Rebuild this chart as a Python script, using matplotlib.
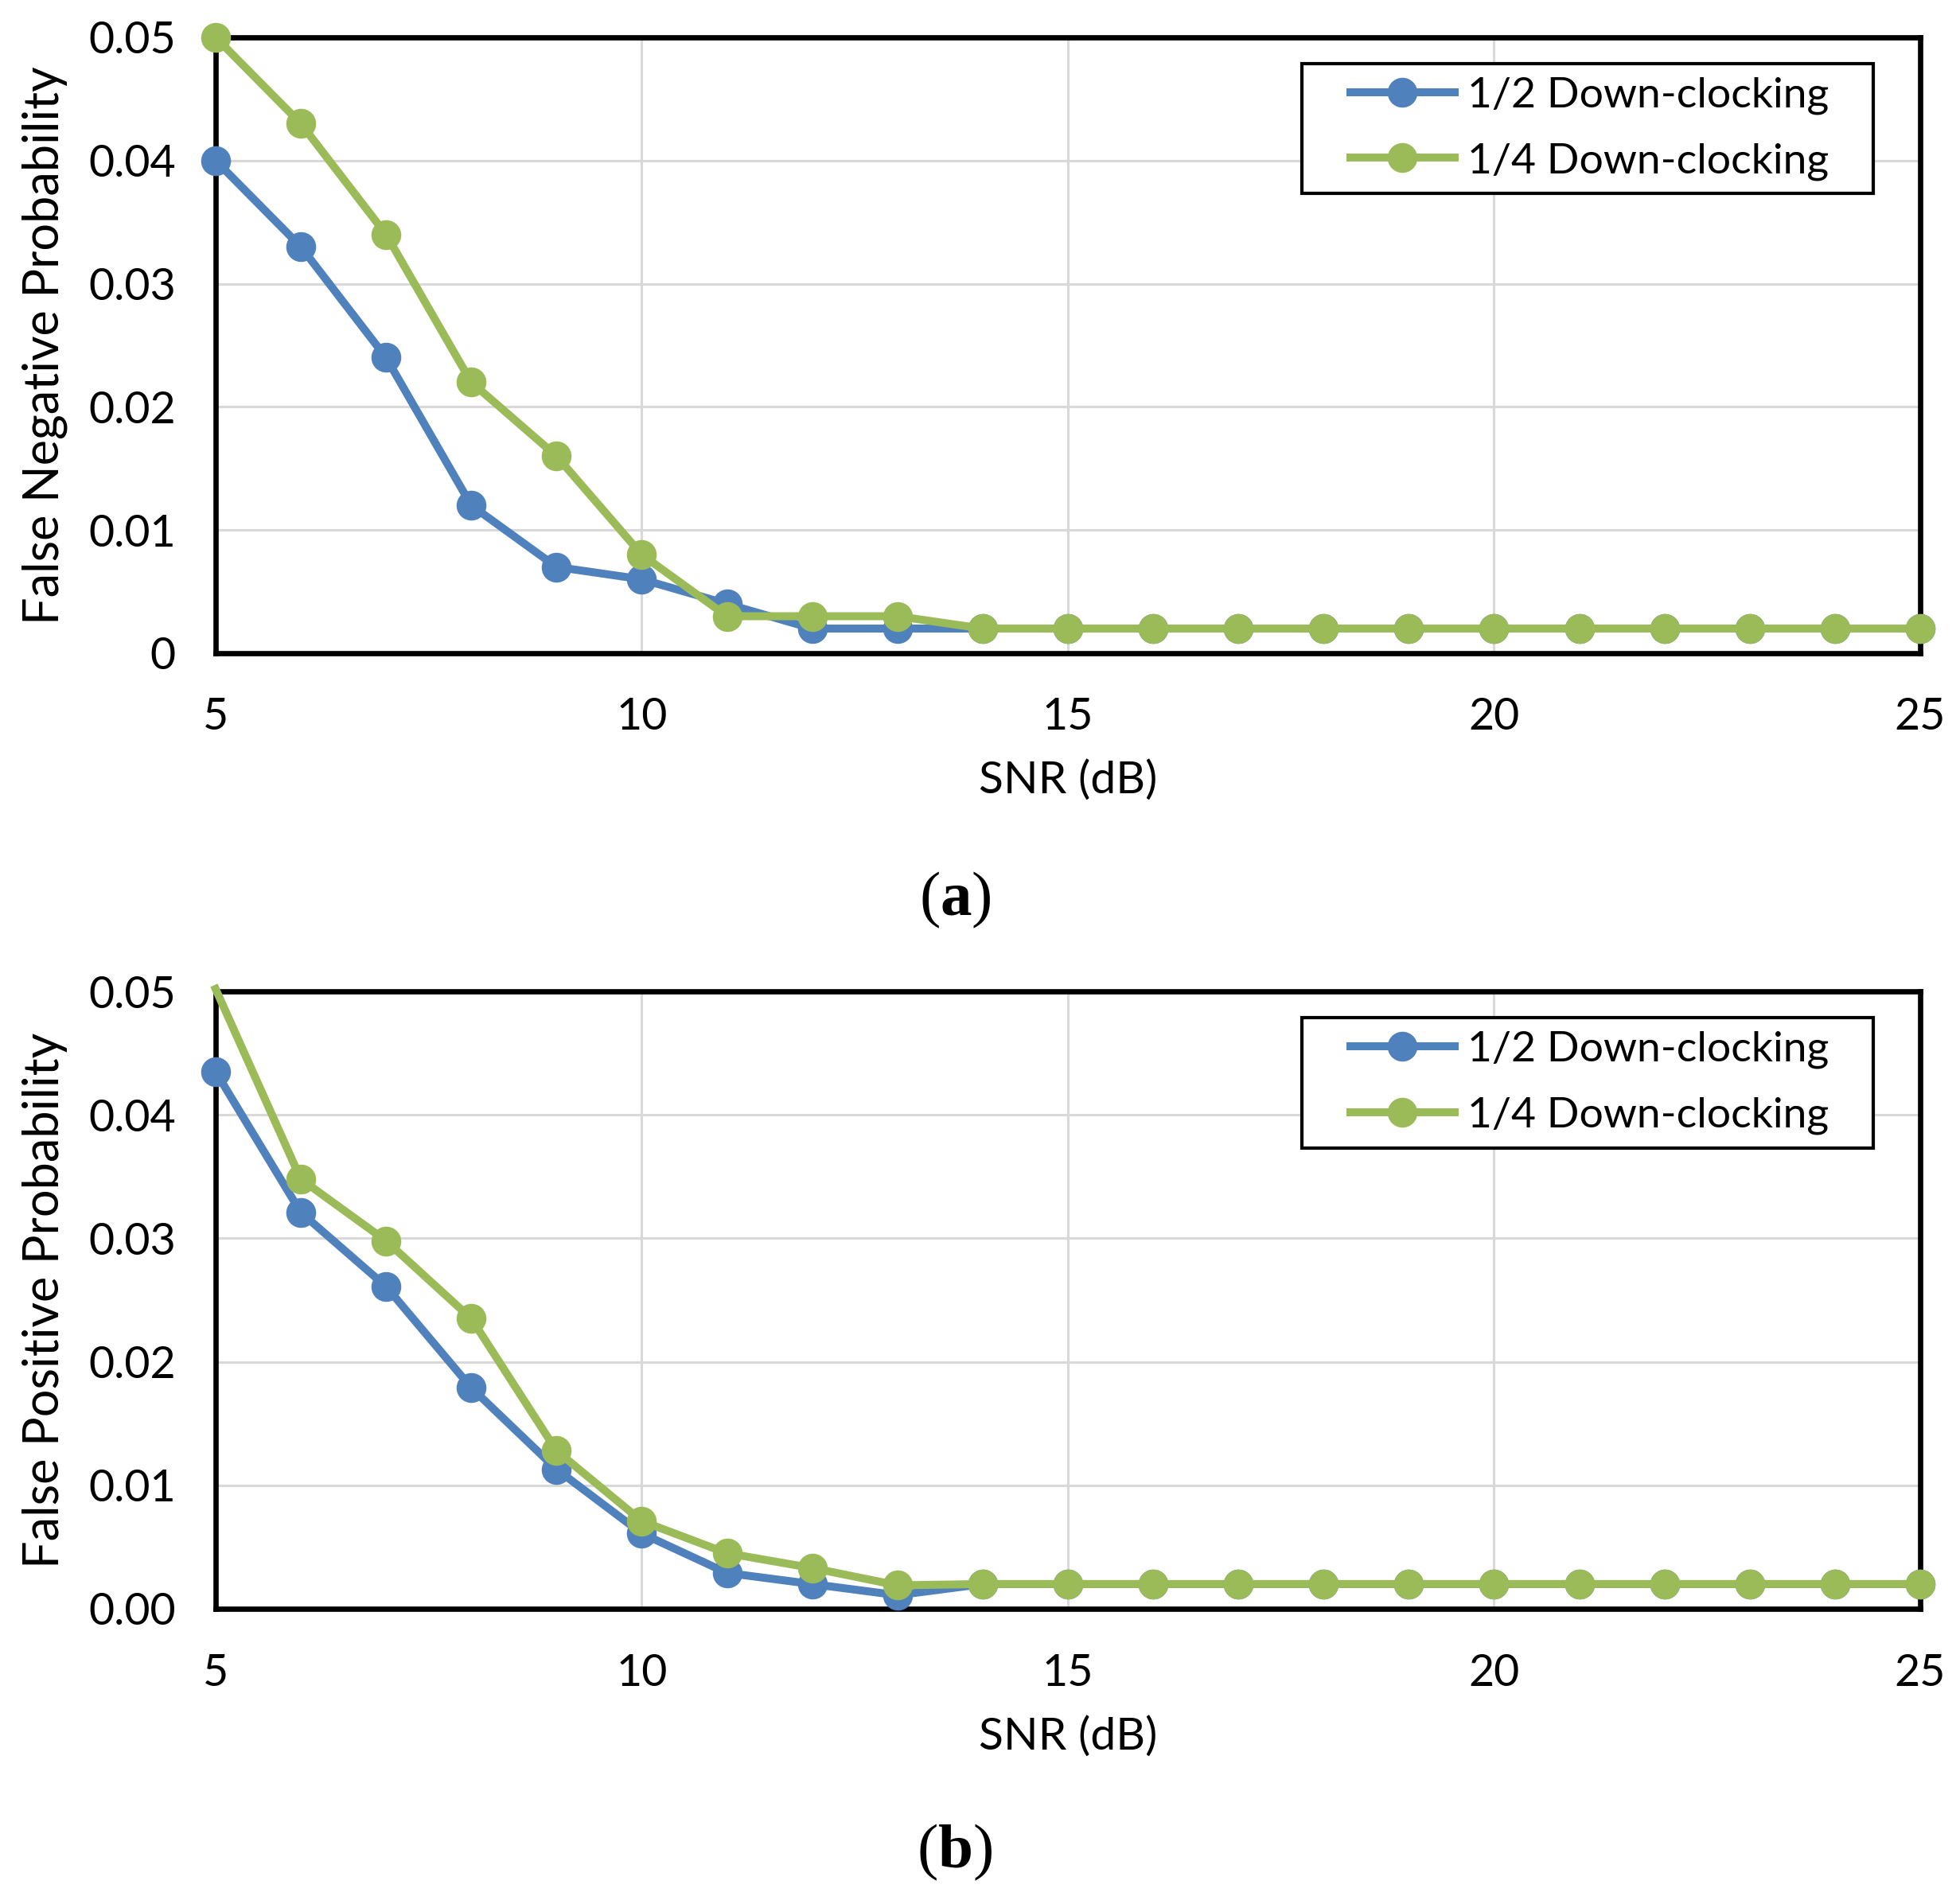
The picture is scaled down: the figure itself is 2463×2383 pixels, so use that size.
import numpy as np
import matplotlib
matplotlib.use('Agg')
import matplotlib.pyplot as plt
from matplotlib.patches import Rectangle

plt.rcParams['font.family'] = ['Lato', 'DejaVu Sans']
plt.rcParams['mathtext.fontset'] = 'custom'
plt.rcParams['mathtext.rm'] = 'Liberation Serif'
plt.rcParams['mathtext.bf'] = 'Liberation Serif:bold'

# SNR values (dB)
snr = np.arange(5, 26)

# (a) false negative probability
fn_half = [0.040, 0.033, 0.024, 0.012, 0.007, 0.006, 0.004, 0.002, 0.002,
           0.002, 0.002, 0.002, 0.002, 0.002, 0.002, 0.002, 0.002, 0.002,
           0.002, 0.002, 0.002]
fn_quarter = [0.050, 0.043, 0.034, 0.022, 0.016, 0.008, 0.003, 0.003, 0.003,
              0.002, 0.002, 0.002, 0.002, 0.002, 0.002, 0.002, 0.002, 0.002,
              0.002, 0.002, 0.002]

# (b) false positive probability
fp_half = [0.0435, 0.0321, 0.0261, 0.0179, 0.0113, 0.0061, 0.0029, 0.0020,
           0.0011, 0.002, 0.002, 0.002, 0.002, 0.002, 0.002, 0.002, 0.002,
           0.002, 0.002, 0.002, 0.002]
fp_quarter = [0.0502, 0.0348, 0.0298, 0.0235, 0.0128, 0.0071, 0.0045, 0.0033,
              0.0019, 0.002, 0.002, 0.002, 0.002, 0.002, 0.002, 0.002, 0.002,
              0.002, 0.002, 0.002, 0.002]

labels = ['1/2 Down-clocking', '1/4 Down-clocking']
colors = ['#4F81BD', '#9BBB59']
yticks = [0, 0.01, 0.02, 0.03, 0.04, 0.05]
yticklabels_a = ['0', '0.01', '0.02', '0.03', '0.04', '0.05']
yticklabels_b = ['0.00', '0.01', '0.02', '0.03', '0.04', '0.05']
xticks = [5, 10, 15, 20, 25]

fig = plt.figure(figsize=(24.63, 23.83), dpi=100)
ax_a = fig.add_axes([0.1100, 0.6555, 0.8697, 0.3248])
ax_b = fig.add_axes([0.1100, 0.1515, 0.8697, 0.3256])


def draw_panel(ax, ys, ylabel, yticklabels):
    for y, lab, c in zip(ys, labels, colors):
        y = np.array(y)
        # points above the axis limit keep their line but lose the marker
        ax.plot(snr, y, '-o', color=c, lw=7.2, ms=26, label=lab,
                markevery=list(y <= 0.05), clip_on=False, zorder=3)
    ax.set_xlim(5, 25)
    ax.set_ylim(0, 0.05)
    ax.set_xticks(xticks)
    ax.set_yticks(yticks)
    ax.set_yticklabels(yticklabels)
    ax.tick_params(length=0, labelsize=40, pad=40)
    ax.tick_params(axis='y', pad=36)
    ax.grid(True, color='#D9D9D9', lw=2.2)
    ax.set_axisbelow(True)
    for s in ax.spines.values():
        s.set_linewidth(4.8)
    ax.set_xlabel('SNR (dB)', fontsize=41, labelpad=20)
    ax.set_ylabel(ylabel, fontsize=44, labelpad=19)

    # legend box
    ax.add_patch(Rectangle((0.6373, 0.7468), 0.3352, 0.2106, transform=ax.transAxes,
                           facecolor='white', edgecolor='black', lw=3, zorder=5,
                           clip_on=False))
    leg = ax.legend(loc='center left', bbox_to_anchor=(0.6657, 0.852), frameon=False,
                    fontsize=38.5, handlelength=2.45, handletextpad=0.3,
                    labelspacing=0.66, borderpad=0, borderaxespad=0)
    leg.set_zorder(6)


draw_panel(ax_a, [fn_half, fn_quarter], 'False Negative Probability', yticklabels_a)
draw_panel(ax_b, [fp_half, fp_quarter], 'False Positive Probability', yticklabels_b)

fig.text(0.4872, 0.5254, r'($\mathbf{a}$)', fontsize=57, family='Liberation Serif',
         ha='center', va='center')
fig.text(0.4872, 0.0231, r'($\mathbf{b}$)', fontsize=57, family='Liberation Serif',
         ha='center', va='center')

fig.savefig('out.png', dpi=100)
